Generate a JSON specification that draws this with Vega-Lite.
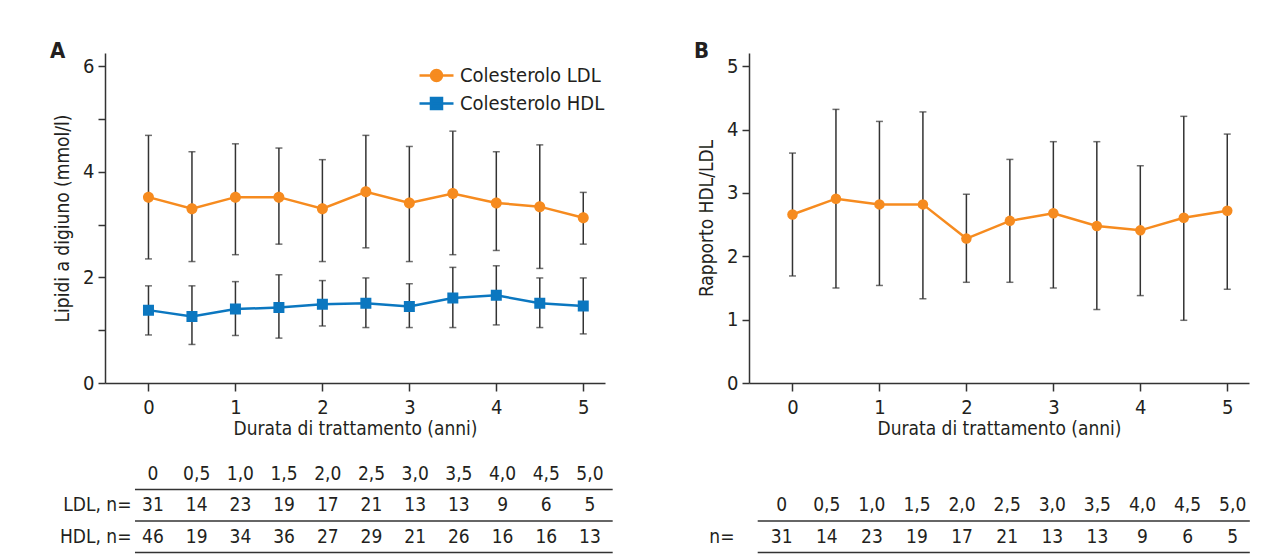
{
  "$schema": "https://vega.github.io/schema/vega-lite/v6.json",
  "background": "white",
  "padding": {"left": 50, "top": 40, "right": 5, "bottom": 5},
  "config": {
    "font": "'DejaVu Sans Condensed', 'Liberation Sans', sans-serif",
    "view": {"stroke": null},
    "axis": {"domainColor": "#333333", "domainWidth": 1.5, "tickColor": "#333333", "tickWidth": 1.5, "tickSize": 8, "labelFontSize": 20, "labelColor": "#231f20", "titleFontSize": 19, "titleFontWeight": "normal", "titleColor": "#231f20", "grid": false, "format": "d"},
    "title": {"fontSize": 22, "fontWeight": "bold", "anchor": "start", "frame": "group", "color": "#231f20"}
  },
  "datasets": {
    "lipids": [
      {"t": 0, "series": "Colesterolo LDL", "mean": 3.52, "lo": 2.35, "hi": 4.69},
      {"t": 0.5, "series": "Colesterolo LDL", "mean": 3.30, "lo": 2.30, "hi": 4.38},
      {"t": 1, "series": "Colesterolo LDL", "mean": 3.52, "lo": 2.43, "hi": 4.53},
      {"t": 1.5, "series": "Colesterolo LDL", "mean": 3.52, "lo": 2.63, "hi": 4.45},
      {"t": 2, "series": "Colesterolo LDL", "mean": 3.30, "lo": 2.30, "hi": 4.23},
      {"t": 2.5, "series": "Colesterolo LDL", "mean": 3.62, "lo": 2.56, "hi": 4.69},
      {"t": 3, "series": "Colesterolo LDL", "mean": 3.41, "lo": 2.30, "hi": 4.48},
      {"t": 3.5, "series": "Colesterolo LDL", "mean": 3.59, "lo": 2.43, "hi": 4.77},
      {"t": 4, "series": "Colesterolo LDL", "mean": 3.41, "lo": 2.51, "hi": 4.38},
      {"t": 4.5, "series": "Colesterolo LDL", "mean": 3.34, "lo": 2.17, "hi": 4.51},
      {"t": 5, "series": "Colesterolo LDL", "mean": 3.13, "lo": 2.63, "hi": 3.61},
      {"t": 0, "series": "Colesterolo HDL", "mean": 1.38, "lo": 0.91, "hi": 1.84},
      {"t": 0.5, "series": "Colesterolo HDL", "mean": 1.26, "lo": 0.73, "hi": 1.84},
      {"t": 1, "series": "Colesterolo HDL", "mean": 1.40, "lo": 0.90, "hi": 1.92},
      {"t": 1.5, "series": "Colesterolo HDL", "mean": 1.43, "lo": 0.85, "hi": 2.05},
      {"t": 2, "series": "Colesterolo HDL", "mean": 1.49, "lo": 1.08, "hi": 1.94},
      {"t": 2.5, "series": "Colesterolo HDL", "mean": 1.51, "lo": 1.05, "hi": 1.99},
      {"t": 3, "series": "Colesterolo HDL", "mean": 1.45, "lo": 1.05, "hi": 1.88},
      {"t": 3.5, "series": "Colesterolo HDL", "mean": 1.61, "lo": 1.05, "hi": 2.19},
      {"t": 4, "series": "Colesterolo HDL", "mean": 1.66, "lo": 1.10, "hi": 2.22},
      {"t": 4.5, "series": "Colesterolo HDL", "mean": 1.51, "lo": 1.05, "hi": 1.99},
      {"t": 5, "series": "Colesterolo HDL", "mean": 1.46, "lo": 0.93, "hi": 1.99}
    ],
    "ratio": [
      {"t": 0, "mean": 2.66, "lo": 1.69, "hi": 3.63},
      {"t": 0.5, "mean": 2.91, "lo": 1.50, "hi": 4.32},
      {"t": 1, "mean": 2.82, "lo": 1.54, "hi": 4.13},
      {"t": 1.5, "mean": 2.82, "lo": 1.33, "hi": 4.28},
      {"t": 2, "mean": 2.28, "lo": 1.59, "hi": 2.98},
      {"t": 2.5, "mean": 2.56, "lo": 1.59, "hi": 3.53},
      {"t": 3, "mean": 2.68, "lo": 1.50, "hi": 3.81},
      {"t": 3.5, "mean": 2.48, "lo": 1.16, "hi": 3.81},
      {"t": 4, "mean": 2.41, "lo": 1.38, "hi": 3.43},
      {"t": 4.5, "mean": 2.61, "lo": 0.99, "hi": 4.21},
      {"t": 5, "mean": 2.72, "lo": 1.48, "hi": 3.93}
    ],
    "counts": [
      {"t": 0, "lbl": "0", "ldl": 31, "hdl": 46, "n": 31},
      {"t": 0.5, "lbl": "0,5", "ldl": 14, "hdl": 19, "n": 14},
      {"t": 1, "lbl": "1,0", "ldl": 23, "hdl": 34, "n": 23},
      {"t": 1.5, "lbl": "1,5", "ldl": 19, "hdl": 36, "n": 19},
      {"t": 2, "lbl": "2,0", "ldl": 17, "hdl": 27, "n": 17},
      {"t": 2.5, "lbl": "2,5", "ldl": 21, "hdl": 29, "n": 21},
      {"t": 3, "lbl": "3,0", "ldl": 13, "hdl": 21, "n": 13},
      {"t": 3.5, "lbl": "3,5", "ldl": 13, "hdl": 26, "n": 13},
      {"t": 4, "lbl": "4,0", "ldl": 9, "hdl": 16, "n": 9},
      {"t": 4.5, "lbl": "4,5", "ldl": 6, "hdl": 16, "n": 6},
      {"t": 5, "lbl": "5,0", "ldl": 5, "hdl": 13, "n": 5}
    ]
  },
  "columns": 2,
  "bounds": "flush",
  "spacing": {"row": 75, "column": 144},
  "concat": [
    {
      "width": 500, "height": 330,
      "title": {"text": "A", "dx": -55, "offset": -32, "baseline": "bottom"},
      "data": {"name": "lipids"},
      "encoding": {
        "x": {"field": "t", "type": "quantitative", "scale": {"domain": [-0.5, 5.25], "nice": false, "zero": false},
              "axis": {"values": [0, 1, 2, 3, 4, 5], "title": "Durata di trattamento (anni)", "labelPadding": 6, "titlePadding": 2}}
      },
      "layer": [
        {"mark": {"type": "rule", "color": "#333333", "strokeWidth": 1.5},
         "encoding": {"y": {"field": "lo", "type": "quantitative", "scale": {"domain": [0, 6.25], "nice": false},
                            "axis": {"values": [0, 1, 2, 3, 4, 5, 6], "labelExpr": "datum.value % 2 === 0 ? datum.label : ''", "tickSize": 7, "labelPadding": 4, "title": "Lipidi a digiuno (mmol/l)", "titlePadding": 10}},
                      "y2": {"field": "hi"}}},
        {"mark": {"type": "tick", "orient": "horizontal", "color": "#333333", "size": 7, "thickness": 1.5},
         "encoding": {"y": {"field": "lo", "type": "quantitative"}}},
        {"mark": {"type": "tick", "orient": "horizontal", "color": "#333333", "size": 7, "thickness": 1.5},
         "encoding": {"y": {"field": "hi", "type": "quantitative"}}},
        {"transform": [{"filter": {"field": "series", "equal": "Colesterolo LDL"}}],
         "mark": {"type": "line", "strokeWidth": 2.5, "color": "#f68b1f"},
         "encoding": {"y": {"field": "mean", "type": "quantitative"}}},
        {"transform": [{"filter": {"field": "series", "equal": "Colesterolo HDL"}}],
         "mark": {"type": "line", "strokeWidth": 2.5, "color": "#0b77c0"},
         "encoding": {"y": {"field": "mean", "type": "quantitative"}}},
        {"mark": {"type": "point", "filled": true, "opacity": 1},
         "encoding": {"y": {"field": "mean", "type": "quantitative"},
                      "fill": {"field": "series", "type": "nominal",
                               "scale": {"domain": ["Colesterolo LDL", "Colesterolo HDL"], "range": ["#f68b1f", "#0b77c0"]},
                               "legend": {"title": null, "orient": "none", "legendX": 320, "legendY": 11, "padding": 0, "labelFontSize": 20, "labelColor": "#231f20", "symbolSize": 400, "symbolStrokeWidth": 2.5, "symbolOpacity": 1, "labelOffset": 12, "rowPadding": 6}},
                      "stroke": {"field": "series", "type": "nominal",
                                 "scale": {"domain": ["Colesterolo LDL", "Colesterolo HDL"], "range": ["#f68b1f", "#0b77c0"]},
                                 "legend": {"title": null, "orient": "none", "legendX": 320, "legendY": 11, "padding": 0, "labelFontSize": 20, "labelColor": "#231f20", "symbolSize": 400, "symbolStrokeWidth": 2.5, "symbolOpacity": 1, "labelOffset": 12, "rowPadding": 6}},
                      "shape": {"field": "series", "type": "nominal",
                                "scale": {"domain": ["Colesterolo LDL", "Colesterolo HDL"], "range": ["M-1.7,0L1.7,0M-0.55,0A0.55,0.55,0,1,0,0.55,0A0.55,0.55,0,1,0,-0.55,0Z", "M-1.7,0L1.7,0M-0.55,-0.55H0.55V0.55H-0.55Z"]},
                                "legend": {"title": null, "orient": "none", "legendX": 320, "legendY": 11, "padding": 0, "labelFontSize": 20, "labelColor": "#231f20", "symbolSize": 400, "symbolStrokeWidth": 2.5, "symbolOpacity": 1, "labelOffset": 12, "rowPadding": 6}},
                      "strokeWidth": {"value": 0},
                      "size": {"value": 400}}}
      ]
    },
    {
      "width": 500, "height": 330,
      "title": {"text": "B", "dx": -55, "offset": -32, "baseline": "bottom"},
      "data": {"name": "ratio"},
      "encoding": {
        "x": {"field": "t", "type": "quantitative", "scale": {"domain": [-0.5, 5.25], "nice": false, "zero": false},
              "axis": {"values": [0, 1, 2, 3, 4, 5], "title": "Durata di trattamento (anni)", "labelPadding": 6, "titlePadding": 2}}
      },
      "layer": [
        {"mark": {"type": "rule", "color": "#333333", "strokeWidth": 1.5},
         "encoding": {"y": {"field": "lo", "type": "quantitative", "scale": {"domain": [0, 5.21], "nice": false},
                            "axis": {"values": [0, 1, 2, 3, 4, 5], "tickSize": 7, "labelPadding": 4, "title": "Rapporto HDL/LDL", "titlePadding": 10}},
                      "y2": {"field": "hi"}}},
        {"mark": {"type": "tick", "orient": "horizontal", "color": "#333333", "size": 7, "thickness": 1.5},
         "encoding": {"y": {"field": "lo", "type": "quantitative"}}},
        {"mark": {"type": "tick", "orient": "horizontal", "color": "#333333", "size": 7, "thickness": 1.5},
         "encoding": {"y": {"field": "hi", "type": "quantitative"}}},
        {"mark": {"type": "line", "strokeWidth": 2.5, "color": "#f68b1f"},
         "encoding": {"y": {"field": "mean", "type": "quantitative"}}},
        {"mark": {"type": "circle", "opacity": 1, "color": "#f68b1f", "size": 110},
         "encoding": {"y": {"field": "mean", "type": "quantitative"}}}
      ]
    },
    {
      "width": 500, "height": 94.5,
      "layer": [
        {"data": {"name": "counts"},
         "transform": [{"fold": ["lbl", "ldl", "hdl"], "as": ["row", "txt"]}],
         "mark": {"type": "text", "fontSize": 19, "color": "#231f20", "baseline": "middle"},
         "encoding": {
           "x": {"field": "t", "type": "quantitative", "scale": {"domain": [-0.549, 5.172], "nice": false, "zero": false}, "axis": null},
           "y": {"field": "row", "type": "nominal", "scale": {"type": "band", "domain": ["lbl", "ldl", "hdl"], "paddingInner": 0, "paddingOuter": 0},
                 "axis": {"title": null, "domain": false, "ticks": false, "labelPadding": -26, "labelFontSize": 19, "labelExpr": "datum.value === 'ldl' ? 'LDL, n=' : datum.value === 'hdl' ? 'HDL, n=' : ''"}},
           "text": {"field": "txt", "type": "nominal"}}},
        {"data": {"values": [{"row": "lbl"}, {"row": "ldl"}, {"row": "hdl"}]},
         "mark": {"type": "rule", "color": "#333333", "strokeWidth": 1.5},
         "encoding": {"y": {"field": "row", "type": "nominal", "bandPosition": 1},
                      "x": {"datum": -0.206}, "x2": {"datum": 5.26}}}
      ]
    },
    {
      "width": 500, "height": 94.5,
      "layer": [
        {"data": {"name": "counts"},
         "transform": [{"fold": ["lbl", "n"], "as": ["row", "txt"]}],
         "mark": {"type": "text", "fontSize": 19, "color": "#231f20", "baseline": "middle"},
         "encoding": {
           "x": {"field": "t", "type": "quantitative", "scale": {"domain": [-0.3625, 5.181], "nice": false, "zero": false}, "axis": null},
           "y": {"field": "row", "type": "nominal", "scale": {"type": "band", "domain": ["pad", "lbl", "n"], "paddingInner": 0, "paddingOuter": 0},
                 "axis": {"title": null, "domain": false, "ticks": false, "labelPadding": 15, "labelFontSize": 19, "labelExpr": "datum.value === 'n' ? 'n=' : ''"}},
           "text": {"field": "txt", "type": "nominal"}}},
        {"data": {"values": [{"row": "lbl"}, {"row": "n"}]},
         "mark": {"type": "rule", "color": "#333333", "strokeWidth": 1.5},
         "encoding": {"y": {"field": "row", "type": "nominal", "bandPosition": 1},
                      "x": {"datum": -0.266}, "x2": {"datum": 5.19}}}
      ]
    }
  ]
}
